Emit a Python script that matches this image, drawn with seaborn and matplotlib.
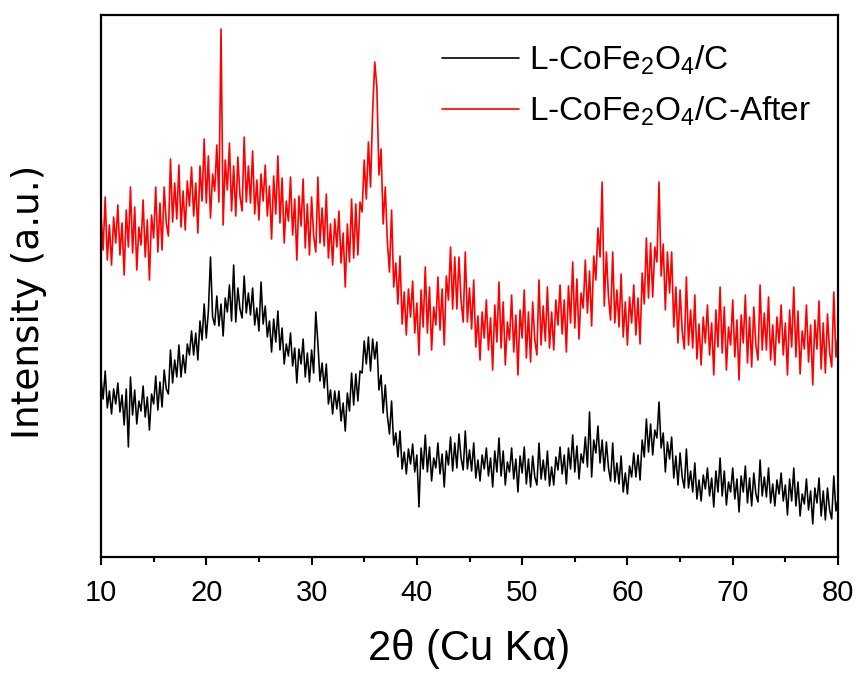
import numpy as np
import pandas as pd
import matplotlib
matplotlib.use("Agg")
import matplotlib.pyplot as plt
import seaborn as sns
from matplotlib.ticker import MultipleLocator

# XRD patterns, 0.2 deg step from 10 to 80 deg (arbitrary units)
two_theta = np.linspace(10, 80, 351)

after = [
    344, 307, 360, 297, 332, 292, 340, 314, 352, 302, 334, 282, 347, 310, 370,
    304, 350, 287, 330, 312, 357, 300, 337, 277, 342, 319, 370, 305, 354, 307,
    370, 334, 321, 398, 335, 374, 338, 392, 330, 366, 327, 376, 351, 390, 341,
    374, 324, 391, 356, 418, 354, 401, 339, 383, 366, 412, 355, 528, 332, 397,
    367, 414, 346, 391, 341, 400, 361, 346, 420, 355, 391, 354, 406, 343, 377,
    337, 383, 356, 392, 341, 371, 318, 381, 343, 401, 334, 379, 314, 356, 336,
    380, 322, 358, 297, 361, 331, 378, 309, 353, 302, 360, 321, 305, 380, 314,
    349, 311, 363, 299, 333, 292, 338, 310, 346, 294, 324, 270, 333, 295, 358,
    299, 353, 302, 355, 345, 397, 358, 415, 370, 445, 495, 470, 382, 408, 333,
    370, 315, 285, 347, 270, 294, 253, 301, 233, 265, 222, 268, 240, 276, 224,
    254, 202, 267, 230, 290, 224, 270, 207, 250, 232, 280, 227, 268, 212, 281,
    257, 310, 248, 300, 248, 300, 256, 235, 305, 235, 269, 228, 277, 210, 241,
    197, 245, 219, 257, 207, 239, 187, 252, 215, 275, 209, 255, 192, 235, 217,
    262, 205, 242, 182, 247, 219, 267, 199, 245, 195, 255, 217, 202, 277, 212,
    251, 216, 270, 209, 245, 207, 257, 232, 272, 223, 257, 205, 271, 234, 295,
    229, 278, 218, 264, 249, 297, 244, 286, 231, 301, 277, 329, 300, 375, 251,
    305, 260, 237, 305, 234, 267, 230, 283, 220, 255, 212, 260, 234, 272, 222,
    259, 213, 284, 253, 319, 259, 314, 260, 310, 295, 375, 281, 313, 247, 305,
    264, 305, 230, 270, 214, 267, 226, 208, 280, 212, 247, 209, 262, 198, 233,
    192, 240, 214, 252, 202, 234, 182, 247, 210, 270, 204, 250, 187, 230, 212,
    257, 200, 237, 177, 242, 214, 262, 194, 240, 190, 250, 212, 197, 272, 207,
    244, 207, 260, 197, 232, 192, 240, 214, 252, 202, 234, 182, 247, 210, 270,
    200, 246, 183, 226, 208, 252, 195, 232, 172, 237, 208, 256, 188, 234, 184,
    243, 205, 190, 265, 200, 222,
]

before = [
    179, 158, 186, 149, 166, 143, 168, 153, 174, 145, 162, 132, 168, 110, 180,
    142, 167, 133, 156, 146, 171, 140, 160, 127, 163, 153, 181, 147, 175, 150,
    187, 168, 163, 207, 174, 197, 180, 212, 180, 202, 184, 213, 202, 226, 202,
    224, 197, 236, 217, 253, 219, 246, 300, 240, 232, 261, 231, 253, 221, 259,
    245, 272, 236, 292, 235, 269, 248, 239, 281, 244, 264, 242, 269, 232, 249,
    226, 275, 233, 251, 220, 236, 205, 238, 215, 246, 207, 229, 193, 213, 201,
    224, 191, 209, 174, 208, 193, 218, 180, 204, 175, 207, 184, 245, 214, 176,
    194, 169, 193, 153, 167, 143, 166, 148, 166, 136, 154, 126, 164, 146, 184,
    152, 183, 156, 186, 184, 216, 193, 220, 186, 218, 198, 215, 167, 182, 144,
    172, 141, 123, 156, 112, 124, 100, 126, 88, 105, 83, 108, 93, 113, 85,
    102, 50, 109, 88, 122, 85, 110, 76, 99, 89, 114, 83, 103, 70, 106,
    92, 120, 86, 114, 89, 123, 99, 87, 126, 88, 107, 86, 114, 79, 97,
    76, 102, 88, 109, 81, 99, 70, 106, 85, 119, 81, 106, 72, 95, 85,
    109, 78, 98, 65, 101, 84, 110, 73, 98, 70, 101, 80, 72, 114, 78,
    97, 77, 106, 71, 90, 72, 100, 87, 110, 83, 102, 73, 109, 88, 122,
    85, 111, 78, 103, 94, 120, 90, 145, 80, 117, 104, 131, 94, 117, 86,
    115, 89, 76, 114, 75, 94, 73, 101, 65, 84, 63, 91, 80, 104, 80,
    102, 77, 117, 100, 138, 105, 133, 102, 127, 119, 155, 109, 124, 85, 115,
    98, 120, 79, 101, 72, 104, 80, 69, 108, 69, 86, 65, 94, 58, 77,
    56, 82, 68, 89, 61, 79, 50, 86, 65, 99, 61, 86, 52, 75, 65,
    89, 58, 78, 45, 81, 65, 91, 54, 79, 51, 84, 63, 55, 97, 61,
    80, 60, 89, 54, 73, 51, 77, 63, 84, 56, 72, 42, 78, 56, 89,
    51, 75, 41, 63, 53, 78, 47, 66, 33, 69, 54, 79, 41, 66, 37,
    69, 47, 38, 81, 46, 58,
]

labels = ["L-CoFe$_2$O$_4$/C", "L-CoFe$_2$O$_4$/C-After"]

df = pd.DataFrame({
    "two_theta": np.concatenate([two_theta, two_theta]),
    "intensity": before + after,
    "sample": [labels[0]] * len(before) + [labels[1]] * len(after),
})

sns.set_style("ticks", {"axes.edgecolor": "black", "text.color": "black",
                        "axes.labelcolor": "black", "xtick.color": "black"})
plt.rcParams["font.family"] = ["Liberation Sans", "DejaVu Sans"]
plt.rcParams["mathtext.fontset"] = "custom"
plt.rcParams["mathtext.rm"] = "Liberation Sans"
plt.rcParams["mathtext.it"] = "Liberation Sans"

fig = plt.figure(figsize=(8.61, 6.80), dpi=100)
ax = fig.add_axes([0.1173, 0.1809, 0.856, 0.797])

# red first so the black trace sits on top where they overlap
sns.lineplot(data=df[df["sample"] == labels[1]], x="two_theta", y="intensity",
             color="#ff0000", lw=1.2, estimator=None, sort=False, ax=ax, legend=False)
sns.lineplot(data=df[df["sample"] == labels[0]], x="two_theta", y="intensity",
             color="black", lw=1.15, estimator=None, sort=False, ax=ax, legend=False)

ax.set_xlim(10, 80)
ax.set_ylim(0, 542)
ax.xaxis.set_major_locator(MultipleLocator(10))
ax.xaxis.set_minor_locator(MultipleLocator(5))
ax.set_yticks([])
ax.tick_params(axis="x", which="major", direction="out", length=6, width=1.5, pad=10,
               labelsize=21, colors="black")
ax.tick_params(axis="x", which="minor", direction="out", length=3.5, width=1.5,
               colors="black")
for sp in ax.spines.values():
    sp.set_linewidth(1.6)
    sp.set_color("black")
    sp.set_visible(True)

ax.set_xlabel("2θ (Cu Kα)", fontsize=30, labelpad=16, color="black")
ax.set_ylabel("Intensity (a.u.)", fontsize=27, family=["DejaVu Sans"], color="black")
ax.yaxis.set_label_coords(-0.073, 0.471)

h_red, h_black = ax.lines[0], ax.lines[1]
leg = ax.legend([h_black, h_red], labels, loc="upper left", bbox_to_anchor=(0.463, 0.948),
                frameon=False, handlelength=2.3, handletextpad=0.3, borderpad=0,
                borderaxespad=0, labelspacing=0.55, prop={"size": 24})
for txt in leg.get_texts():
    txt.set_color("black")
for ln in leg.get_lines():
    ln.set_linewidth(1.2)

fig.savefig("out.png", dpi=100)
